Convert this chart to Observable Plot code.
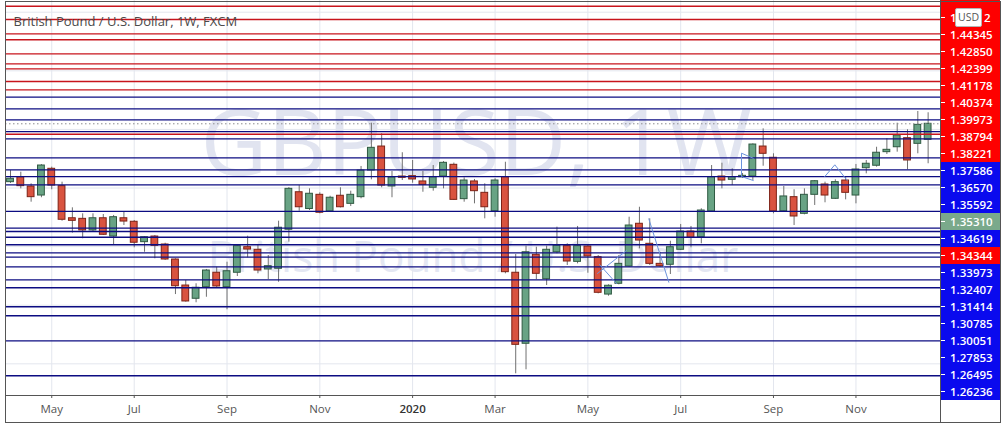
<!DOCTYPE html>
<html><head><meta charset="utf-8">
<script src="https://cdn.jsdelivr.net/npm/d3@7"></script>
<script src="https://cdn.jsdelivr.net/npm/@observablehq/plot@0.6"></script>
<style>
html,body{margin:0;padding:0;background:#fff;}
#wrap{position:relative;width:1004px;height:426px;overflow:hidden;font-family:"Open Sans",sans-serif;}
#wrap svg{position:absolute;left:0;top:0;}
.plab{position:absolute;left:941px;width:59px;height:17px;line-height:17px;color:#fff;font-family:"Open Sans",sans-serif;font-size:11.5px;font-weight:600;box-sizing:border-box;padding-left:9px;}
.plab i{position:absolute;left:0;top:8px;width:4px;height:1px;background:#fff;}
.plab b{position:absolute;left:43px;top:0;font-weight:600;}
.chrome{position:absolute;pointer-events:none;}
</style></head>
<body><div id="wrap"></div>
<script>
// ---- data ----
const weekStart = "2019-04-08", weekEnd = "2020-12-22";
const open  = [1.3050,1.3092,1.3013,1.2936,1.3164,1.3016,1.2742,1.2737,1.2638,1.2742,
               1.2586,1.2742,1.2712,1.2538,1.2586,1.2518,1.2390,1.2168,1.2055,1.2154,
               1.2277,1.2154,1.2277,1.2495,1.2473,1.2305,1.2311,1.2644,1.2964,1.2821,
               1.2942,1.2800,1.2934,1.2865,1.2922,1.3149,1.3354,1.3013,1.3098,1.3101,
               1.3056,1.3002,1.3098,1.3198,1.2905,1.3056,1.2959,1.2802,1.3092,1.2277,
               1.1671,1.2430,1.2222,1.2452,1.2504,1.2370,1.2501,1.2410,1.2091,1.2183,
               1.2330,1.2695,1.2524,1.2353,1.2345,1.2473,1.2629,1.2580,1.2800,1.3098,
               1.3070,1.3092,1.3098,1.3354,1.3258,1.2802,1.2922,1.2780,1.2942,1.3030,
               1.2908,1.3064,1.2936,1.3169,1.3190,1.3306,1.3348,1.3425,1.3377,1.3411];
const high  = [1.3149,1.3135,1.3036,1.3200,1.3178,1.3050,1.2831,1.2780,1.2780,1.2774,
               1.2766,1.2794,1.2723,1.2586,1.2595,1.2529,1.2396,1.2211,1.2183,1.2305,
               1.2324,1.2367,1.2510,1.2589,1.2518,1.2424,1.2717,1.3004,1.3021,1.2993,
               1.2959,1.2930,1.3002,1.2973,1.3184,1.3553,1.3463,1.3141,1.3301,1.3235,
               1.3141,1.3192,1.3226,1.3213,1.3087,1.3073,1.3036,1.3079,1.3220,1.2433,
               1.2504,1.2495,1.2504,1.2666,1.2524,1.2672,1.2510,1.2424,1.2174,1.2424,
               1.2751,1.2836,1.2737,1.2452,1.2546,1.2689,1.2672,1.2823,1.3192,1.3212,
               1.3164,1.3124,1.3377,1.3505,1.3292,1.3013,1.2985,1.2993,1.3064,1.3050,
               1.3070,1.3098,1.3201,1.3235,1.3348,1.3420,1.3553,1.3497,1.3653,1.3642];
const low   = [1.3039,1.2993,1.2879,1.2917,1.2985,1.2717,1.2615,1.2567,1.2629,1.2595,
               1.2516,1.2680,1.2490,1.2452,1.2396,1.2382,1.2091,1.2026,1.2021,1.2068,
               1.2149,1.1961,1.2245,1.2405,1.2268,1.2219,1.2196,1.2538,1.2802,1.2808,
               1.2780,1.2794,1.2830,1.2842,1.2908,1.3070,1.3002,1.2917,1.3064,1.3041,
               1.2964,1.2973,1.2993,1.2894,1.2879,1.2865,1.2737,1.2751,1.2268,1.1415,
               1.1449,1.2219,1.2168,1.2439,1.2339,1.2353,1.2273,1.2097,1.2077,1.2174,
               1.2324,1.2481,1.2339,1.2324,1.2262,1.2467,1.2490,1.2524,1.2794,1.2993,
               1.3021,1.3081,1.3064,1.3186,1.2780,1.2794,1.2680,1.2771,1.2851,1.2874,
               1.2902,1.2899,1.2865,1.3121,1.3178,1.3286,1.3306,1.3155,1.3292,1.3207];
const close = [1.3079,1.3016,1.2922,1.3192,1.3021,1.2729,1.2720,1.2638,1.2742,1.2601,
               1.2751,1.2714,1.2533,1.2580,1.2507,1.2390,1.2162,1.2032,1.2149,1.2296,
               1.2160,1.2290,1.2504,1.2475,1.2296,1.2333,1.2661,1.2993,1.2836,1.2951,
               1.2789,1.2917,1.2836,1.2942,1.3149,1.3343,1.3021,1.3090,1.3087,1.3073,
               1.3027,1.3092,1.3215,1.2899,1.3064,1.2973,1.2836,1.3064,1.2282,1.1662,
               1.2452,1.2268,1.2473,1.2507,1.2373,1.2504,1.2416,1.2106,1.2166,1.2353,
               1.2680,1.2552,1.2353,1.2333,1.2495,1.2629,1.2575,1.2808,1.3092,1.3064,
               1.3092,1.3104,1.3371,1.3292,1.2802,1.2928,1.2757,1.2942,1.3058,1.2936,
               1.3050,1.2959,1.3158,1.3207,1.3301,1.3326,1.3448,1.3235,1.3539,1.3548];

const redLevels  = [1.4551,1.4438,1.4316,1.4265,1.4145,1.4060,1.4017,1.3909,1.3838,1.3459];
const blueLevels = [1.3775,1.3676,1.3582,1.3482,1.3420,1.3258,1.3155,1.3098,1.3027,1.2800,
                    1.2657,1.2629,1.2580,1.2516,1.2447,1.2410,1.2328,1.2217,1.2149,1.1987,
                    1.1910,1.1696,1.1398];
const gridLevels = [1.15,1.20,1.25,1.30,1.35,1.40,1.45];

// top label is mostly hidden by the USD badge: only "1." and "2" show
const priceLabels = ["1.|2","1.44345","1.42850","1.42399","1.41178","1.40374","1.39973","1.38794",
                     "1.38221","1.37586","1.36570","1.35592","1.35310","1.34619","1.34344","1.33973",
                     "1.32407","1.31414","1.30785","1.30051","1.27853","1.26495","1.26236"];
const priceLabelKinds = ["r","r","r","r","r","r","r","r","r","b","b","b","g","b","r","b",
                         "b","b","b","b","b","b","b"];

const tickWeeks  = ["2019-05-06","2019-07-01","2019-09-02","2019-11-04","2020-01-06",
                    "2020-03-02","2020-05-04","2020-07-06","2020-09-07","2020-11-02"];
const tickLabels = ["May","Jul","Sep","Nov","2020","Mar","May","Jul","Sep","Nov"];

// drawn pattern lines: [week index, price]
const drawings = [
  [[56.93,1.2271],[59.75,1.2467]],
  [[57.13,1.2347],[58.78,1.2185]],
  [[61.91,1.2737],[63.85,1.2196]],
  [[72.04,1.3254],[70.9,1.3297],[70.9,1.3098],[72.04,1.3064]],
  [[78.98,1.3098],[79.95,1.3198],[81.15,1.3064]]
];

const titleText = "British Pound / U.S. Dollar, 1W, FXCM";
const wmMain = "GBPUSD, 1W";
const wmSub = "British Pound / U.S. Dollar";

// ---- build ----
const WEEK = 7 * 864e5;
const weeks = d3.utcMonday.range(new Date(weekStart), new Date(weekEnd));
const candles = weeks.map((date, i) => ({date, open: open[i], high: high[i], low: low[i], close: close[i]}));
const t0 = +weeks[0];
const drawPts = drawings.flatMap((pts, id) => pts.map(([w, p]) => ({id, date: new Date(t0 + w * WEEK), price: p})));
const tickDates = tickWeeks.map(s => new Date(s));
const halfBody = 0.33 * WEEK;

const UP = "#68a384", UPB = "#2f5a42", DN = "#d9533f", DNB = "#7d2216";

const chart = Plot.plot({
  width: 1004, height: 426,
  marginLeft: 5, marginRight: 64, marginTop: 0, marginBottom: 31,
  style: {fontFamily: "Open Sans, sans-serif", background: "transparent"},
  x: {type: "utc", domain: [new Date(t0 - 0.485 * WEEK), new Date(t0 + 90.2 * WEEK)], axis: null},
  y: {domain: [1.46 - 395 / 1172, 1.46], axis: null},
  color: {type: "identity"},
  marks: [
    Plot.text([wmMain], {frameAnchor: "middle", dx: 3, dy: -52, fontSize: 92, fill: "#e1e4f0", text: d => d}),
    Plot.text([wmSub], {frameAnchor: "middle", dx: 0, dy: 60, fontSize: 44, fill: "#e4e7f2", text: d => d}),
    Plot.gridX(tickDates, {stroke: "#e3e6ee", strokeOpacity: 1}),
    Plot.gridY(gridLevels, {stroke: "#e3e6ee", strokeOpacity: 1}),
    Plot.ruleX(candles, {x: "date", y1: "low", y2: "high", stroke: "#707070", strokeWidth: 1}),
    Plot.rect(candles, {
      x1: d => new Date(+d.date - halfBody), x2: d => new Date(+d.date + halfBody),
      y1: "open", y2: "close",
      fill: d => d.close >= d.open ? UP : DN,
      stroke: d => d.close >= d.open ? UPB : DNB, strokeWidth: 1
    }),
    Plot.ruleY(blueLevels, {stroke: "#0c0c82", strokeWidth: 1.3}),
    Plot.ruleY(redLevels, {stroke: "#c8141c", strokeWidth: 1.3}),
    Plot.ruleY([close[close.length - 1]], {stroke: "#8c8c8c", strokeDasharray: "1.5,2.5"}),
    Plot.line(drawPts, {x: "date", y: "price", z: "id", stroke: "#6b93dc", strokeWidth: 1}),
    Plot.text([titleText], {frameAnchor: "top-left", dx: 8, dy: 21, lineAnchor: "middle", textAnchor: "start", fontSize: 13, fill: "#4a4a4a", text: d => d}),
    Plot.frame({anchor: "bottom", stroke: "#555"}),
    Plot.frame({anchor: "right", stroke: "#555"}),
    Plot.axisX(tickDates.filter((d, i) => tickLabels[i] !== "2020"), {
      tickFormat: d => tickLabels[tickDates.findIndex(t => +t === +d)],
      tickSize: 3, tickPadding: 6, fontSize: 11.5, fill: "#555", stroke: "#555", label: null
    }),
    Plot.axisX(tickDates.filter((d, i) => tickLabels[i] === "2020"), {
      tickFormat: () => "2020",
      tickSize: 3, tickPadding: 6, fontSize: 11.5, fill: "#333", fontWeight: 600, stroke: "#555", label: null
    })
  ]
});

const wrap = document.getElementById("wrap");
wrap.appendChild(chart);

// price scale label column
const kindColor = {r: "#fe0000", b: "#0a0aee", g: "#7aa98b"};
const fill0 = document.createElement("div");
fill0.className = "chrome";
Object.assign(fill0.style, {left: "941px", top: "0px", width: "59px", height: "9px", background: kindColor.r});
wrap.appendChild(fill0);
priceLabels.forEach((t, k) => {
  const el = document.createElement("div");
  el.className = "plab";
  el.style.top = (8.5 + 17 * k) + "px";
  el.style.background = kindColor[priceLabelKinds[k]];
  if (t.includes("|")) {
    const [a, b] = t.split("|");
    el.innerHTML = "<i></i>" + a + "<b>" + b + "</b>";
  } else {
    el.innerHTML = "<i></i>" + t;
  }
  wrap.appendChild(el);
});
// USD badge
const usd = document.createElement("div");
usd.className = "chrome";
Object.assign(usd.style, {left: "955px", top: "8px", width: "27px", height: "19px", background: "#fff",
  border: "1px solid #b5b5b5", borderRadius: "2px", boxSizing: "border-box", color: "#555",
  font: "10.5px 'Open Sans', sans-serif", lineHeight: "17px", textAlign: "center"});
usd.textContent = "USD";
wrap.appendChild(usd);
// outer border
const border = document.createElement("div");
border.className = "chrome";
Object.assign(border.style, {left: "5px", top: "1px", width: "996px", height: "422px", border: "1px solid #555", boxSizing: "border-box"});
wrap.appendChild(border);
const vline = document.createElement("div");
vline.className = "chrome";
Object.assign(vline.style, {left: "940px", top: "395px", width: "1px", height: "27px", background: "#555"});
wrap.appendChild(vline);
</script></body></html>
